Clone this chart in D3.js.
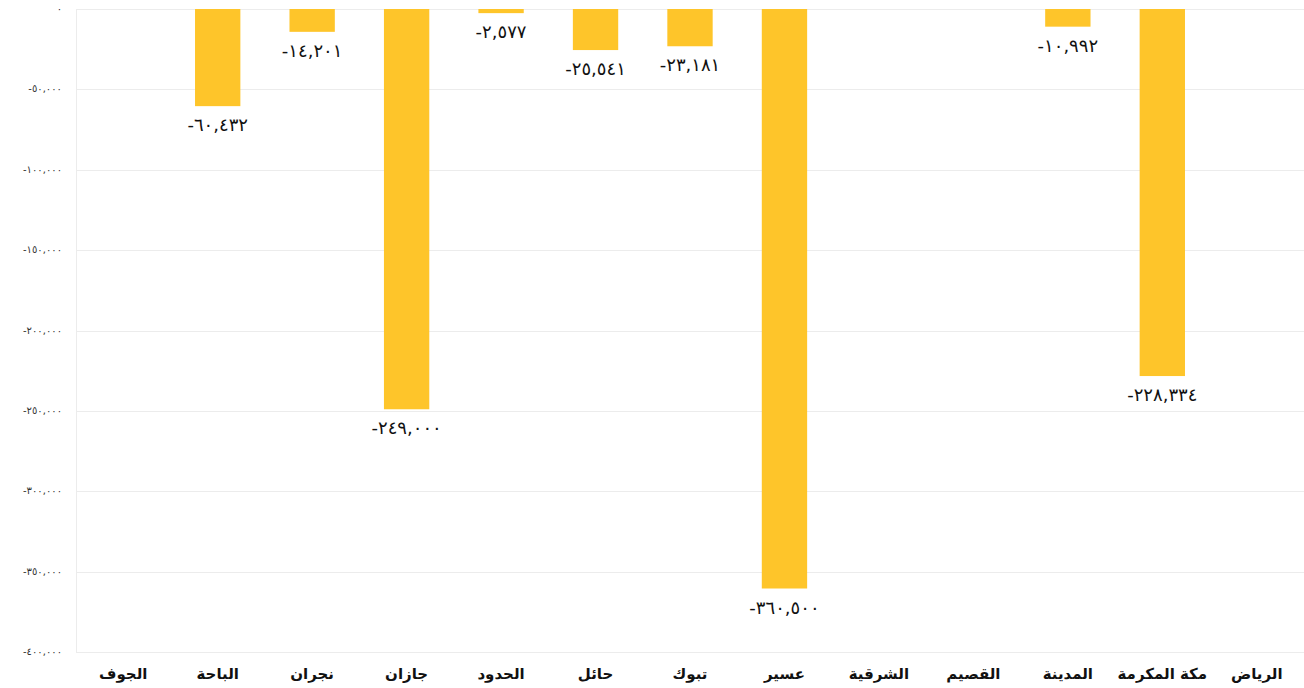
<!DOCTYPE html>
<html>
<head>
<meta charset="utf-8">
<script src="https://cdn.jsdelivr.net/npm/d3@7"></script>
<style>
  body { margin: 0; background: #fff; }
  svg { display: block; }
</style>
</head>
<body>
<svg id="chart" width="1304" height="688"></svg>
<script>
// regions, left to right as in the picture
const regions = ["الجوف", "الباحة", "نجران", "جازان", "الحدود الشمالية", "حائل", "تبوك",
  "عسير", "الشرقية", "القصيم", "المدينة", "مكة المكرمة", "الرياض"];
const values = [null, -60432, -14201, -249000, -2577, -25541, -23181,
  -360500, null, null, -10992, -228334, null];
const yTicks = [0, -50000, -100000, -150000, -200000, -250000, -300000, -350000, -400000];

const arDigits = "٠١٢٣٤٥٦٧٨٩";
function toArabic(s) {
  return s.replace(/[0-9]/g, d => arDigits[+d]);
}
const fmt = d3.format(",");
function label(v) {
  if (v === 0) return "٠";
  return (v < 0 ? "-" : "") + toArabic(fmt(Math.abs(v)));
}

const svg = d3.select("#chart");
const plotLeft = 76, plotRight = 1304, plotTop = 9, plotBottom = 652;

const x = d3.scaleBand().domain(regions).range([plotLeft, plotRight]).paddingInner(0.52).paddingOuter(0.26);
const y = d3.scaleLinear().domain([0, -400000]).range([plotTop, plotBottom]);

// grid
svg.append("g").selectAll("line").data(yTicks).enter().append("line")
  .attr("x1", plotLeft).attr("x2", plotRight)
  .attr("y1", d => Math.round(y(d)) + 0.5).attr("y2", d => Math.round(y(d)) + 0.5)
  .attr("stroke", "#ececec").attr("stroke-width", 1);
svg.append("line").attr("x1", plotLeft + 0.5).attr("x2", plotLeft + 0.5)
  .attr("y1", plotTop).attr("y2", plotBottom).attr("stroke", "#ececec");

// y tick labels
svg.append("g").selectAll("text").data(yTicks).enter().append("text")
  .attr("x", 62).attr("y", d => y(d) + 3)
  .attr("text-anchor", "end")
  .attr("direction", "ltr")
  .style("font-family", "DejaVu Sans, sans-serif")
  .style("font-size", "10px")
  .style("letter-spacing", "1.8px")
  .style("fill", "#333")
  .text(d => label(d));

const data = regions.map((r, i) => ({ r: r, v: values[i] })).filter(d => d.v !== null);

svg.append("g").selectAll("rect").data(data).enter().append("rect")
  .attr("x", d => x(d.r))
  .attr("width", x.bandwidth())
  .attr("y", y(0))
  .attr("height", d => y(d.v) - y(0))
  .attr("fill", "#fec52a");

svg.append("g").selectAll("text").data(data).enter().append("text")
  .attr("x", d => x(d.r) + x.bandwidth() / 2)
  .attr("y", d => y(d.v) + 25)
  .attr("text-anchor", "middle")
  .attr("direction", "ltr")
  .style("font-family", "DejaVu Sans, sans-serif")
  .style("font-size", "18px")
  .style("letter-spacing", "1.6px")
  .style("fill", "#111")
  .text(d => label(d.v));

// category labels (long name wraps onto a second line)
const cats = svg.append("g").selectAll("text").data(regions).enter().append("text")
  .attr("x", d => x(d) + x.bandwidth() / 2)
  .attr("y", 679)
  .attr("text-anchor", "middle")
  .style("font-family", "DejaVu Sans, sans-serif")
  .style("font-weight", "bold")
  .style("font-size", "15px")
  .style("fill", "#111");
cats.each(function(d) {
  const parts = d === "الحدود الشمالية" ? ["الحدود", "الشمالية"] : [d];
  d3.select(this).selectAll("tspan").data(parts).enter().append("tspan")
    .attr("x", x(d) + x.bandwidth() / 2)
    .attr("dy", (p, i) => i === 0 ? 0 : 22)
    .text(p => p);
});
</script>
</body>
</html>
